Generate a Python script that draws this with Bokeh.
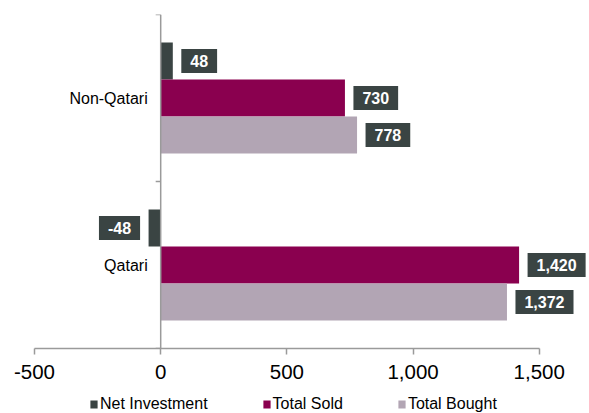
from math import pi
from bokeh.plotting import figure
from bokeh.layouts import column
from bokeh.models import (ColumnDataSource, Range1d, Span, FixedTicker, NumeralTickFormatter,
                          Legend, LegendItem)
from bokeh.core.properties import value
from bokeh.embed import file_html
from bokeh.resources import INLINE

# ---- data ----
categories = ["Qatari", "Non-Qatari"]          # bottom to top
net_investment = [-48, 48]
total_sold = [1420, 730]
total_bought = [1372, 778]
x_ticks = [-500, 0, 500, 1000, 1500]
series_names = ["Net Investment", "Total Sold", "Total Bought"]
colors = ["#3a4443", "#8a004f", "#b2a5b4"]

FONT = "Liberation Sans"
AXIS_COLOR = "#9a9a9a"
BAR_H = 0.222

centers = [i + 0.5 for i in range(len(categories))]
boundaries = list(range(len(categories) + 1))

p = figure(width=589, height=390, output_backend="svg", toolbar_location=None,
           x_range=Range1d(-500, 1699), y_range=Range1d(0, len(categories)),
           y_axis_location=None,
           min_border_left=34, min_border_right=0, min_border_top=14, min_border_bottom=42)
p.outline_line_color = None
p.xgrid.visible = False
p.ygrid.visible = False

offsets = [BAR_H, 0.0, -BAR_H]
series = [net_investment, total_sold, total_bought]
for name, vals, col, off in zip(series_names, series, colors, offsets):
    src = ColumnDataSource(dict(y=[c + off for c in centers], right=vals))
    p.hbar(y="y", left=0, right="right", height=BAR_H, source=src,
           fill_color=col, line_color=None)

# value labels
for vals, off in zip(series, offsets):
    pos = [v >= 0 for v in vals]
    src = ColumnDataSource(dict(
        x=vals, y=[c + off for c in centers],
        text=[f"{v:,}" for v in vals],
        align=["left" if q else "right" for q in pos],
        xo=[8.5 if q else -8.5 for q in pos],
    ))
    p.text(x="x", y="y", text="text", source=src, x_offset="xo", text_align="align",
           text_baseline="middle", text_color="white", text_font=value(FONT),
           text_font_style="bold", text_font_size="16px",
           background_fill_color="#3a4443", padding=(9, 6))

# vertical axis at x = 0
p.add_layout(Span(location=0, dimension="height", line_color=AXIS_COLOR, line_width=1.5))
p.ray(x=0, y=boundaries, length=5, length_units="screen", angle=pi,
      line_color=AXIS_COLOR, line_width=1.5)
p.text(x=0, y=centers, text=categories, x_offset=-13, text_align="right",
       text_baseline="middle", text_color="#000000", text_font=value(FONT),
       text_font_size="16px")

# x axis
ax = p.xaxis[0]
ax.ticker = FixedTicker(ticks=x_ticks)
ax.bounds = (x_ticks[0], x_ticks[-1])
ax.formatter = NumeralTickFormatter(format="0,0")
ax.axis_line_color = AXIS_COLOR
ax.axis_line_width = 1.5
ax.major_tick_line_color = AXIS_COLOR
ax.major_tick_line_width = 1.5
ax.major_tick_in = 0
ax.major_tick_out = 6
ax.minor_tick_line_color = None
ax.major_label_standoff = 10
ax.major_label_text_font = FONT
ax.major_label_text_font_size = "20.5px"
ax.major_label_text_color = "#000000"

# legend strip under the chart (swatch carriers sit outside the visible range)
lf = figure(width=589, height=23, output_backend="svg", toolbar_location=None,
            x_range=Range1d(0, 1), y_range=Range1d(0, 1),
            x_axis_location=None, y_axis_location=None,
            min_border_left=0, min_border_right=0, min_border_top=0, min_border_bottom=0)
lf.outline_line_color = None
lf.xgrid.visible = False
lf.ygrid.visible = False
items = []
for name, col in zip(series_names, colors):
    r = lf.hbar(y=[-5], left=[0], right=[0], height=0.5, fill_color=col, line_color=None)
    items.append(LegendItem(label=name, renderers=[r]))
leg = Legend(items=items, orientation="horizontal", location=(55, 0),
             border_line_color=None, background_fill_alpha=0, padding=0, margin=0,
             spacing=54, glyph_width=9, glyph_height=10, label_standoff=2,
             label_height=18, label_text_font=FONT, label_text_font_size="16px",
             label_text_color="#000000")
lf.add_layout(leg, "center")

layout = column(p, lf, spacing=0)
open("out.html", "w").write(file_html(layout, INLINE))
